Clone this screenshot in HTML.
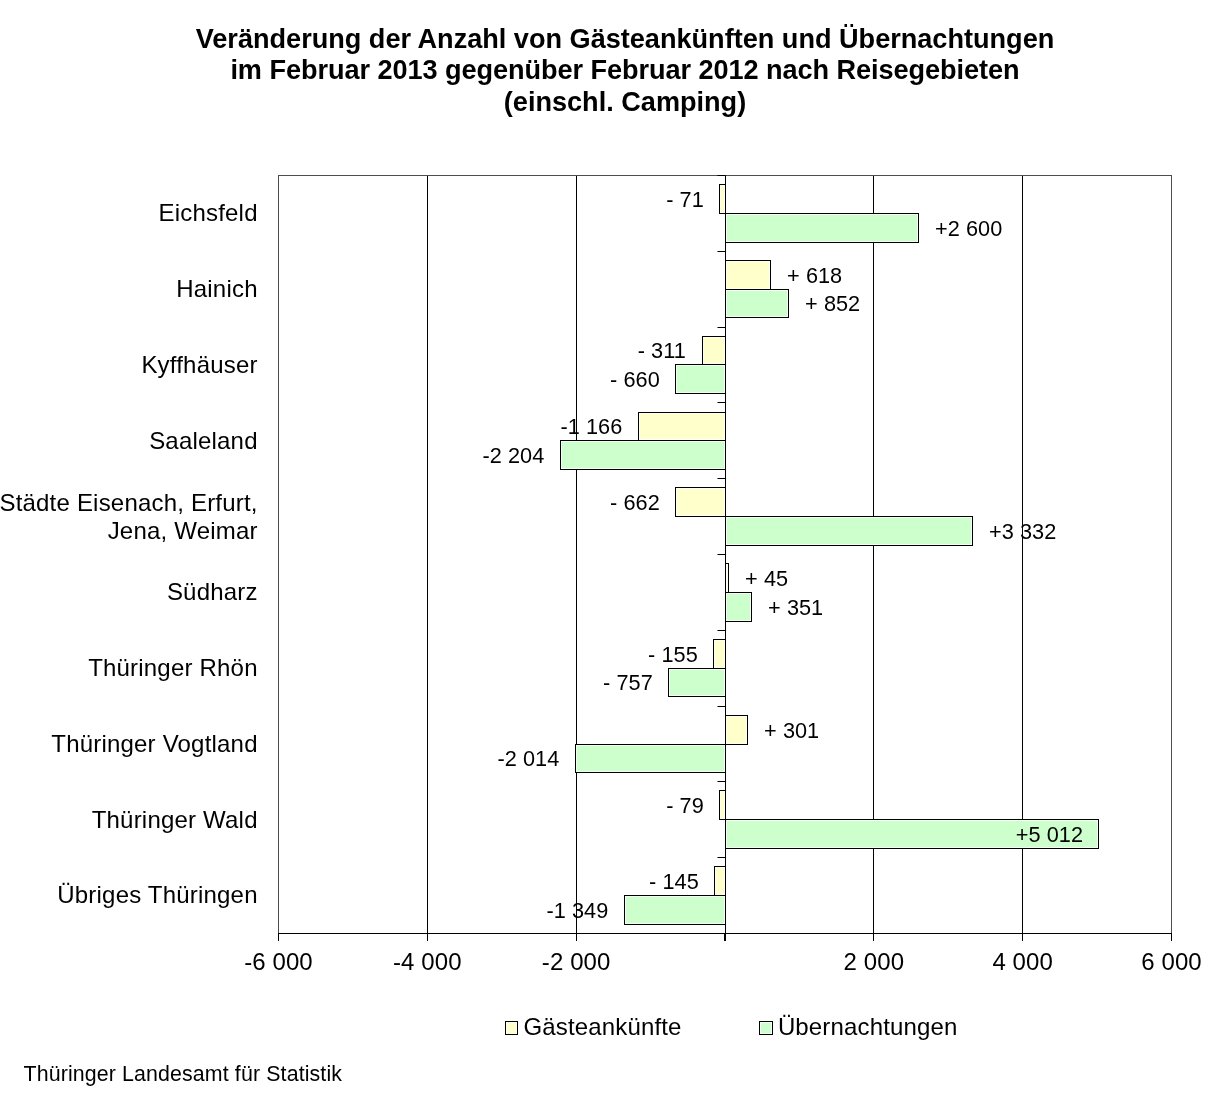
<!DOCTYPE html>
<html lang="de"><head><meta charset="utf-8"><title>Veränderung der Anzahl von Gästeankünften und Übernachtungen</title>
<style>html,body{margin:0;padding:0;background:#fff}svg{display:block}text{font-family:"Liberation Sans",sans-serif;fill:#000}.t{font-weight:bold;font-size:27.1px;text-anchor:middle}.c{font-size:24px;text-anchor:end;letter-spacing:0.2px}.a{font-size:24px;text-anchor:middle;letter-spacing:0.1px}.d{font-size:21.7px;letter-spacing:0.05px}.l{font-size:24px;letter-spacing:0.15px}.f{font-size:21.33px;letter-spacing:0.135px}</style></head><body>
<svg width="1219" height="1098" viewBox="0 0 1219 1098">
<rect width="1219" height="1098" fill="#fff"/>
<text class="t" x="625" y="48.2">Veränderung der Anzahl von Gästeankünften und Übernachtungen</text>
<text class="t" x="625" y="79.4" letter-spacing="-0.05">im Februar 2013 gegenüber Februar 2012 nach Reisegebieten</text>
<text class="t" x="625" y="110.6">(einschl. Camping)</text>
<line x1="427.5" y1="175.5" x2="427.5" y2="933.5" stroke="#000" stroke-width="1"/>
<line x1="576.5" y1="175.5" x2="576.5" y2="933.5" stroke="#000" stroke-width="1"/>
<line x1="873.5" y1="175.5" x2="873.5" y2="933.5" stroke="#000" stroke-width="1"/>
<line x1="1022.5" y1="175.5" x2="1022.5" y2="933.5" stroke="#000" stroke-width="1"/>
<rect x="278.5" y="175.5" width="893.0" height="758.0" fill="none" stroke="#4d4d4d" stroke-width="1"/>
<rect x="719.5" y="184.5" width="6.0" height="29.0" fill="#fffff3" stroke="#000" stroke-width="1"/>
<rect x="721.0" y="186.0" width="3.0" height="26.0" fill="#ffffcc"/>
<rect x="725.5" y="213.5" width="193.0" height="29.0" fill="#f3fff3" stroke="#000" stroke-width="1"/>
<rect x="727.0" y="215.0" width="190.0" height="26.0" fill="#ccffcc"/>
<rect x="725.5" y="260.5" width="45.0" height="29.0" fill="#fffff3" stroke="#000" stroke-width="1"/>
<rect x="727.0" y="262.0" width="42.0" height="26.0" fill="#ffffcc"/>
<rect x="725.5" y="289.5" width="63.0" height="28.0" fill="#f3fff3" stroke="#000" stroke-width="1"/>
<rect x="727.0" y="291.0" width="60.0" height="25.0" fill="#ccffcc"/>
<rect x="702.5" y="336.5" width="23.0" height="28.0" fill="#fffff3" stroke="#000" stroke-width="1"/>
<rect x="704.0" y="338.0" width="20.0" height="25.0" fill="#ffffcc"/>
<rect x="675.5" y="364.5" width="50.0" height="29.0" fill="#f3fff3" stroke="#000" stroke-width="1"/>
<rect x="677.0" y="366.0" width="47.0" height="26.0" fill="#ccffcc"/>
<rect x="638.5" y="412.5" width="87.0" height="28.0" fill="#fffff3" stroke="#000" stroke-width="1"/>
<rect x="640.0" y="414.0" width="84.0" height="25.0" fill="#ffffcc"/>
<rect x="560.5" y="440.5" width="165.0" height="29.0" fill="#f3fff3" stroke="#000" stroke-width="1"/>
<rect x="562.0" y="442.0" width="162.0" height="26.0" fill="#ccffcc"/>
<rect x="675.5" y="487.5" width="50.0" height="29.0" fill="#fffff3" stroke="#000" stroke-width="1"/>
<rect x="677.0" y="489.0" width="47.0" height="26.0" fill="#ffffcc"/>
<rect x="725.5" y="516.5" width="247.0" height="29.0" fill="#f3fff3" stroke="#000" stroke-width="1"/>
<rect x="727.0" y="518.0" width="244.0" height="26.0" fill="#ccffcc"/>
<rect x="725.5" y="563.5" width="3.0" height="29.0" fill="#fffff3" stroke="#000" stroke-width="1"/>
<rect x="725.5" y="592.5" width="26.0" height="29.0" fill="#f3fff3" stroke="#000" stroke-width="1"/>
<rect x="727.0" y="594.0" width="23.0" height="26.0" fill="#ccffcc"/>
<rect x="713.5" y="639.5" width="12.0" height="29.0" fill="#fffff3" stroke="#000" stroke-width="1"/>
<rect x="715.0" y="641.0" width="9.0" height="26.0" fill="#ffffcc"/>
<rect x="668.5" y="668.5" width="57.0" height="28.0" fill="#f3fff3" stroke="#000" stroke-width="1"/>
<rect x="670.0" y="670.0" width="54.0" height="25.0" fill="#ccffcc"/>
<rect x="725.5" y="715.5" width="22.0" height="29.0" fill="#fffff3" stroke="#000" stroke-width="1"/>
<rect x="727.0" y="717.0" width="19.0" height="26.0" fill="#ffffcc"/>
<rect x="575.5" y="744.5" width="150.0" height="28.0" fill="#f3fff3" stroke="#000" stroke-width="1"/>
<rect x="577.0" y="746.0" width="147.0" height="25.0" fill="#ccffcc"/>
<rect x="719.5" y="790.5" width="6.0" height="29.0" fill="#fffff3" stroke="#000" stroke-width="1"/>
<rect x="721.0" y="792.0" width="3.0" height="26.0" fill="#ffffcc"/>
<rect x="725.5" y="819.5" width="373.0" height="29.0" fill="#f3fff3" stroke="#000" stroke-width="1"/>
<rect x="727.0" y="821.0" width="370.0" height="26.0" fill="#ccffcc"/>
<rect x="714.5" y="866.5" width="11.0" height="29.0" fill="#fffff3" stroke="#000" stroke-width="1"/>
<rect x="716.0" y="868.0" width="8.0" height="26.0" fill="#ffffcc"/>
<rect x="624.5" y="895.5" width="101.0" height="29.0" fill="#f3fff3" stroke="#000" stroke-width="1"/>
<rect x="626.0" y="897.0" width="98.0" height="26.0" fill="#ccffcc"/>
<line x1="278.0" y1="933.5" x2="1172.0" y2="933.5" stroke="#000"/>
<line x1="725.5" y1="175.5" x2="725.5" y2="941.0" stroke="#000"/>
<line x1="278.5" y1="933.5" x2="278.5" y2="941.0" stroke="#000"/>
<line x1="427.5" y1="933.5" x2="427.5" y2="941.0" stroke="#000"/>
<line x1="576.5" y1="933.5" x2="576.5" y2="941.0" stroke="#000"/>
<line x1="724.5" y1="933.5" x2="724.5" y2="941.0" stroke="#000"/>
<line x1="873.5" y1="933.5" x2="873.5" y2="941.0" stroke="#000"/>
<line x1="1022.5" y1="933.5" x2="1022.5" y2="941.0" stroke="#000"/>
<line x1="1171.5" y1="933.5" x2="1171.5" y2="941.0" stroke="#000"/>
<line x1="717.5" y1="175.5" x2="725.5" y2="175.5" stroke="#000"/>
<line x1="717.5" y1="251.5" x2="725.5" y2="251.5" stroke="#000"/>
<line x1="717.5" y1="327.5" x2="725.5" y2="327.5" stroke="#000"/>
<line x1="717.5" y1="402.5" x2="725.5" y2="402.5" stroke="#000"/>
<line x1="717.5" y1="478.5" x2="725.5" y2="478.5" stroke="#000"/>
<line x1="717.5" y1="554.5" x2="725.5" y2="554.5" stroke="#000"/>
<line x1="717.5" y1="630.5" x2="725.5" y2="630.5" stroke="#000"/>
<line x1="717.5" y1="706.5" x2="725.5" y2="706.5" stroke="#000"/>
<line x1="717.5" y1="781.5" x2="725.5" y2="781.5" stroke="#000"/>
<line x1="717.5" y1="857.5" x2="725.5" y2="857.5" stroke="#000"/>
<line x1="717.5" y1="933.5" x2="725.5" y2="933.5" stroke="#000"/>
<text class="d" text-anchor="end" x="703.8" y="206.7">- 71</text>
<text class="d" x="935.1" y="235.7">+2 600</text>
<text class="d" x="787.1" y="282.7">+ 618</text>
<text class="d" x="805.1" y="311.2">+ 852</text>
<text class="d" text-anchor="end" x="685.8" y="358.2">- 311</text>
<text class="d" text-anchor="end" x="659.8" y="386.7">- 660</text>
<text class="d" text-anchor="end" x="622.3" y="434.2">-1 166</text>
<text class="d" text-anchor="end" x="544.3" y="462.7">-2 204</text>
<text class="d" text-anchor="end" x="659.8" y="509.7">- 662</text>
<text class="d" x="989.1" y="538.7">+3 332</text>
<text class="d" x="745.1" y="585.7">+ 45</text>
<text class="d" x="768.1" y="614.7">+ 351</text>
<text class="d" text-anchor="end" x="697.8" y="661.7">- 155</text>
<text class="d" text-anchor="end" x="652.8" y="690.2">- 757</text>
<text class="d" x="764.1" y="737.7">+ 301</text>
<text class="d" text-anchor="end" x="559.3" y="766.2">-2 014</text>
<text class="d" text-anchor="end" x="703.8" y="812.7">- 79</text>
<text class="d" text-anchor="end" x="1083.0" y="841.7">+5 012</text>
<text class="d" text-anchor="end" x="698.8" y="888.7">- 145</text>
<text class="d" text-anchor="end" x="608.3" y="917.7">-1 349</text>
<text class="c" x="257.7" y="221.2">Eichsfeld</text>
<text class="c" x="257.7" y="297.0">Hainich</text>
<text class="c" x="257.7" y="372.8">Kyffhäuser</text>
<text class="c" x="257.7" y="448.6">Saaleland</text>
<text class="c" x="257.7" y="510.8">Städte Eisenach, Erfurt,</text>
<text class="c" x="257.7" y="538.8">Jena, Weimar</text>
<text class="c" x="257.7" y="600.2">Südharz</text>
<text class="c" x="257.7" y="676.0">Thüringer Rhön</text>
<text class="c" x="257.7" y="751.8">Thüringer Vogtland</text>
<text class="c" x="257.7" y="827.6">Thüringer Wald</text>
<text class="c" x="257.7" y="903.4">Übriges Thüringen</text>
<text class="a" x="278.5" y="969.8">-6 000</text>
<text class="a" x="427.3" y="969.8">-4 000</text>
<text class="a" x="576.2" y="969.8">-2 000</text>
<text class="a" x="873.8" y="969.8">2 000</text>
<text class="a" x="1022.7" y="969.8">4 000</text>
<text class="a" x="1171.5" y="969.8">6 000</text>
<rect x="505.5" y="1021.5" width="12" height="13" fill="#fffff3" stroke="#000"/>
<rect x="507" y="1023" width="9" height="10" fill="#ffffcc"/>
<text class="l" x="523.5" y="1035.1">Gästeankünfte</text>
<rect x="759.5" y="1021.5" width="13" height="13" fill="#f3fff3" stroke="#000"/>
<rect x="761" y="1023" width="10" height="10" fill="#ccffcc"/>
<text class="l" x="777.9" y="1035.1">Übernachtungen</text>
<text class="f" x="23.5" y="1081">Thüringer Landesamt für Statistik</text>
</svg></body></html>
